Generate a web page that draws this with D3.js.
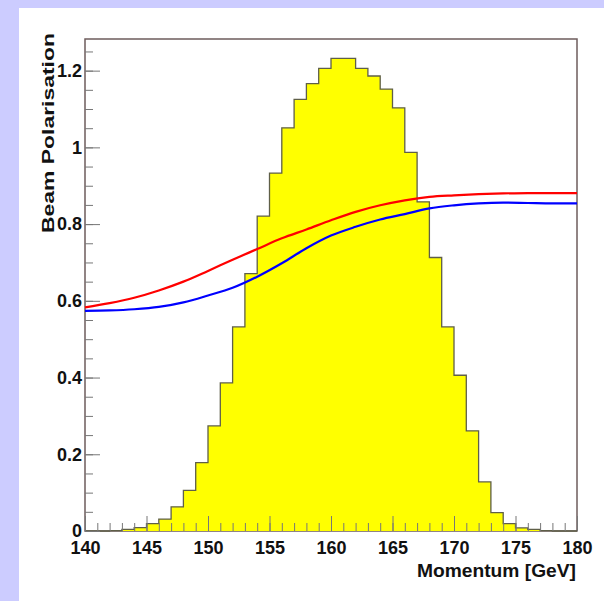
<!DOCTYPE html>
<html>
  <head>
    <meta charset="UTF-8">
    <title>Beam Polarisation</title>
    <style>
      body {margin: 0; background-color: #ccccff;}
      svg {display: block;}
      text {font-family: "Liberation Sans", Arial, Helvetica, sans-serif; font-weight: bold; fill: #111;}
      .tick line {stroke: #777;}
    </style>
  </head>
  <body>
    <div id="chart"></div>
    <script src="https://d3js.org/d3.v7.min.js"></script>
    <script>

// histogram: 1 GeV bins starting at these lower edges
const binLow = [140,141,142,143,144,145,146,147,148,149,150,151,152,153,154,155,156,157,158,159,
                160,161,162,163,164,165,166,167,168,169,170,171,172,173,174,175,176,177,178,179];
const binValue = [0,0,0.001,0.004,0.009,0.019,0.031,0.063,0.106,0.178,0.274,0.386,0.532,0.671,0.821,0.933,1.051,1.125,1.166,1.206,
                  1.232,1.232,1.206,1.186,1.152,1.103,0.987,0.858,0.713,0.532,0.406,0.261,0.128,0.048,0.019,0.008,0.004,0.001,0,0];

// polarisation curves
const curveP = [140,142,144,146,148,150,152,154,156,158,160,162,164,166,168,170,172,174,176,178,180];
const redPol = [0.583,0.594,0.608,0.627,0.650,0.678,0.707,0.735,0.763,0.786,0.810,0.832,0.849,0.862,0.871,0.875,0.878,0.880,0.881,0.881,0.881];
const bluePol = [0.574,0.575,0.578,0.584,0.596,0.614,0.634,0.663,0.698,0.737,0.770,0.793,0.812,0.826,0.841,0.849,0.854,0.856,0.855,0.854,0.854];

const xTicks = [140,145,150,155,160,165,170,175,180];
const yTicks = [0,0.2,0.4,0.6,0.8,1,1.2];

const width = 604, height = 601;
const frameL = 85, frameR = 577, frameT = 39, frameB = 531;

const svg = d3.select("#chart").append("svg").attr("width", width).attr("height", height);

svg.append("rect").attr("x", 19).attr("y", 8).attr("width", width - 19).attr("height", height - 8).attr("fill", "white");

const x = d3.scaleLinear().domain([140, 180]).range([frameL, frameR]);
const y = d3.scaleLinear().domain([0, 1.2825]).range([frameB, frameT]);

// frame
svg.append("rect")
  .attr("x", frameL).attr("y", frameT)
  .attr("width", frameR - frameL).attr("height", frameB - frameT)
  .attr("fill", "none").attr("stroke", "#6e5c5c").attr("stroke-width", 1.5);

const hist = binLow.map((b, i) => ({p: b, v: binValue[i]}));
hist.push({p: 180, v: binValue[binValue.length - 1]});

svg.append("path")
  .datum(hist)
  .attr("fill", "#ffff00")
  .attr("d", d3.area().curve(d3.curveStepAfter).x(d => x(d.p)).y0(y(0)).y1(d => y(d.v)));

svg.append("path")
  .datum(hist)
  .attr("fill", "none")
  .attr("stroke", "#5f5f48")
  .attr("stroke-width", 1.3)
  .attr("d", d3.line().curve(d3.curveStepAfter).x(d => x(d.p)).y(d => y(d.v)));

// axes, ticks pointing inside the frame
svg.append("g").attr("transform", `translate(0,${frameB})`)
  .call(d3.axisBottom(x).tickValues(d3.range(140, 181, 1)).tickSize(-8).tickFormat(""));
const xMajor = svg.append("g").attr("transform", `translate(0,${frameB})`)
  .call(d3.axisBottom(x).tickValues(xTicks).tickSize(-15).tickPadding(10));
xMajor.selectAll("text").style("font-size", "18px");

svg.append("g").attr("transform", `translate(${frameL},0)`)
  .call(d3.axisLeft(y).tickValues(d3.range(0, 1.26, 0.05)).tickSize(-8).tickFormat(""));
const yMajor = svg.append("g").attr("transform", `translate(${frameL},0)`)
  .call(d3.axisLeft(y).tickValues(yTicks).tickSize(-15).tickPadding(3).tickFormat(d => String(d)));
yMajor.selectAll("text").style("font-size", "18px");

svg.selectAll(".domain").remove();
svg.selectAll(".tick text").attr("fill", "#111");

// curves
const line = d3.line().curve(d3.curveMonotoneX).x(d => x(d[0])).y(d => y(d[1]));
svg.append("path")
  .datum(curveP.map((p, i) => [p, redPol[i]]))
  .attr("fill", "none").attr("stroke", "#ff0000").attr("stroke-width", 2.2)
  .attr("d", line);
svg.append("path")
  .datum(curveP.map((p, i) => [p, bluePol[i]]))
  .attr("fill", "none").attr("stroke", "#0000ff").attr("stroke-width", 2.2)
  .attr("d", line);

// titles
svg.append("text")
  .attr("x", 576).attr("y", 577)
  .attr("text-anchor", "end")
  .style("font-size", "18px")
  .attr("textLength", 159).attr("lengthAdjust", "spacingAndGlyphs")
  .text("Momentum [GeV]");

svg.append("text")
  .attr("transform", "rotate(-90)")
  .attr("x", -33).attr("y", 54)
  .attr("text-anchor", "end")
  .style("font-size", "16px")
  .attr("textLength", 200).attr("lengthAdjust", "spacingAndGlyphs")
  .text("Beam Polarisation");

    </script>
  </body>
</html>
